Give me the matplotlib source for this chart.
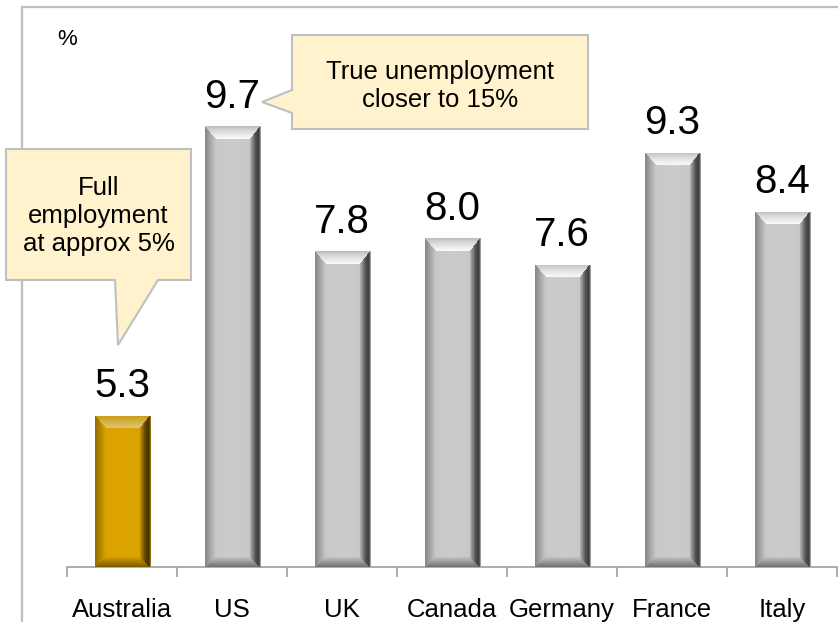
#!/usr/bin/env python3

import numpy as np
import matplotlib
matplotlib.use('Agg')
import matplotlib.pyplot as plt
from matplotlib.patches import Polygon, Rectangle

plt.rcParams['font.family'] = ['Liberation Sans', 'DejaVu Sans']

countries = ['Australia', 'US', 'UK', 'Canada', 'Germany', 'France', 'Italy']
rates = [5.3, 9.7, 7.8, 8.0, 7.6, 9.3, 8.4]
highlight = 'Australia'
unit_label = '%'
note_left = 'Full\nemployment\nat approx 5%'
note_right = 'True unemployment\ncloser to 15%'

W, H = 838, 622
GRAY = np.array([0.79, 0.79, 0.79])
GOLD = np.array([0.86, 0.64, 0.0])


def px(x, y):
    # pixel position (from top left) -> figure fraction
    return (x / W, 1 - y / H)


def bevel_image(wpx, hpx, base, shine):
    yy, xx = np.mgrid[0:hpx, 0:wpx] + 0.5
    nt = yy / 13.0
    nb = (hpx - yy) / 10.0
    nl = xx / 11.0
    nr = (wpx - xx) / 10.0
    stack = np.stack([nt, nl, nr, nb])
    idx = np.argmin(stack, axis=0)
    m = np.clip(np.min(stack, axis=0), 0, 1)[..., None]

    # face with a gentle horizontal gradient
    fx = xx / wpx
    face = base * (0.97 + 0.04 * np.sin(np.pi * fx))[..., None]
    img = face.copy()

    white = np.ones(3)
    top_edge = base * 0.9
    top = top_edge + (white - top_edge) * (shine * m ** 0.7)
    left = base * (0.66 + 0.34 * m)
    r_prof = np.interp(m[..., 0], [0, 0.12, 0.45, 1.0], [0.55, 0.3, 0.42, 0.9])[..., None]
    right = base * r_prof
    bottom = base * (0.55 + 0.42 * m)

    inside = (m[..., 0] < 1)
    for k, part in enumerate([top, left, right, bottom]):
        sel = inside & (idx == k)
        img[sel] = part[sel]
    return np.clip(img, 0, 1)


fig = plt.figure(figsize=(W / 100, H / 100), dpi=100)
# outer frame of the slide panel
fig.patches.append(Rectangle(px(22, 660), 900 / W, 653 / H, transform=fig.transFigure,
                             fill=False, edgecolor='#bfbfbf', linewidth=1.6, zorder=0))

ax_left, ax_bottom = px(67, 567)
ax = fig.add_axes([ax_left, ax_bottom, 770 / W, 526 / H])
ax.set_xlim(-0.5, 6.5)
ax.set_ylim(3, 11)
ax.patch.set_alpha(0)

x = np.arange(len(countries))
width = 0.5
colors = [GOLD if c == highlight else GRAY for c in countries]
edge = ['#7a5c00' if c == highlight else '#8c8c8c' for c in countries]
bars = ax.bar(x, rates, width=width, color=[tuple(c) for c in colors],
              edgecolor=edge, linewidth=0.6, zorder=2)

fig.canvas.draw()
y0 = ax.get_ylim()[0]
for rect, base, c in zip(bars, colors, countries):
    x0 = rect.get_x()
    x1 = x0 + rect.get_width()
    top = rect.get_height()
    p0 = ax.transData.transform((x0, y0))
    p1 = ax.transData.transform((x1, top))
    wpx = int(round(p1[0] - p0[0]))
    hpx = int(round(p1[1] - p0[1]))
    shine = 0.45 if c == highlight else 0.95
    img = bevel_image(wpx, hpx, base, shine)
    im = ax.imshow(img, extent=(x0, x1, y0, top), aspect='auto',
                   interpolation='bilinear', zorder=3)
    im.set_clip_path(rect)
    ax.annotate(f'{top:.1f}', (rect.get_x() + rect.get_width() / 2, top),
                xytext=(0, 13.5), textcoords='offset points',
                ha='center', va='baseline', fontsize=29, color='black', zorder=4)

ax.set_xlim(-0.5, 6.5)
ax.set_ylim(3, 11)

# axis styling
for s in ['left', 'right', 'top']:
    ax.spines[s].set_visible(False)
ax.spines['bottom'].set_color('#a6a6a6')
ax.spines['bottom'].set_linewidth(1.3)
ax.set_yticks([])
ax.set_xticks(x)
ax.set_xticklabels(countries, fontsize=18.5)
ax.tick_params(axis='x', which='major', length=0, pad=22)
ax.set_xticks(np.arange(-0.5, 7, 1.0), minor=True)
ax.tick_params(axis='x', which='minor', length=7, width=1.3, color='#a6a6a6')

fig.text(*px(57, 45), unit_label, fontsize=16, ha='left', va='baseline')

# callouts
box_fill = '#fff2cc'
box_edge = '#bfbfbf'
left_pts = [(6, 149), (191, 149), (191, 280), (158, 280), (118, 345), (115, 280), (6, 280)]
right_pts = [(292, 35), (588, 35), (588, 129), (292, 129), (292, 113), (262, 102), (292, 90)]
for pts in (left_pts, right_pts):
    fig.patches.append(Polygon([px(a, b) for a, b in pts], closed=True,
                               transform=fig.transFigure, facecolor=box_fill,
                               edgecolor=box_edge, linewidth=1.5, zorder=5))

fig.text(*px(98.5, 216), note_left, fontsize=18.5, ha='center', va='center',
         linespacing=1.2, zorder=6)
fig.text(*px(440, 86), note_right, fontsize=18.5, ha='center', va='center',
         linespacing=1.2, zorder=6)

fig.savefig('out.png', dpi=100)
